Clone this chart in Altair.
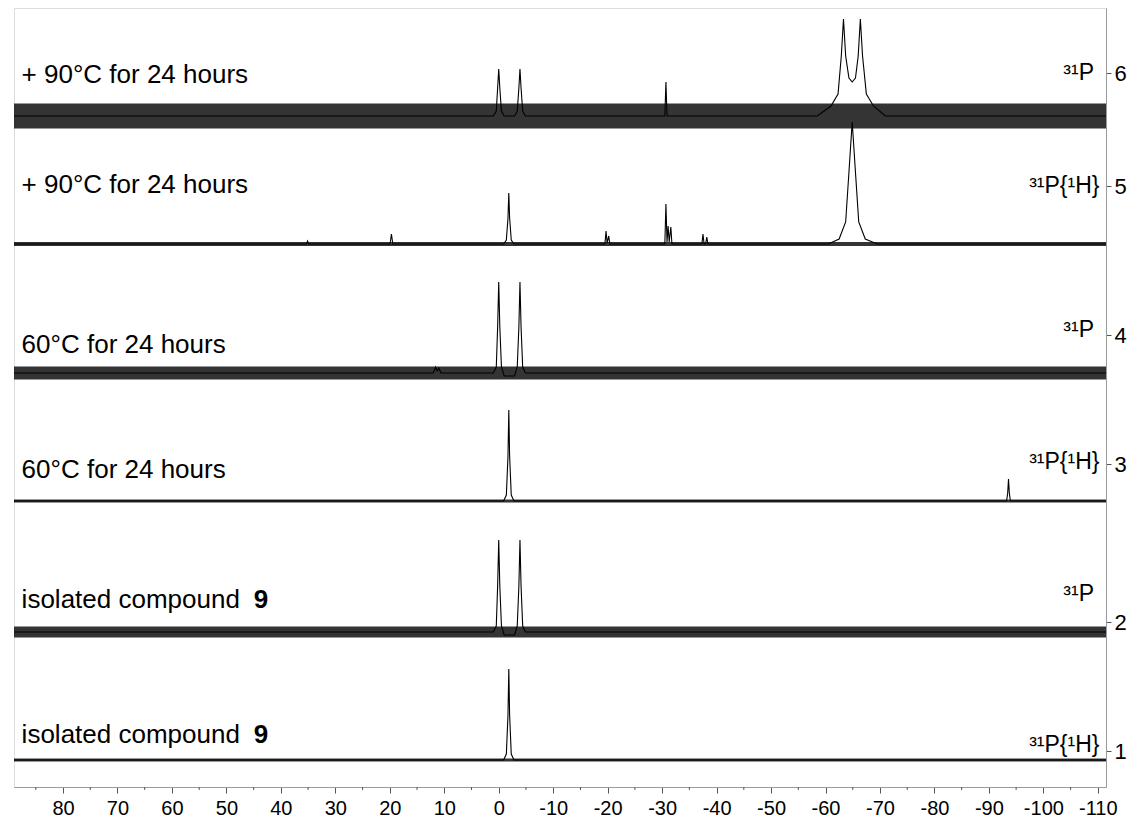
import altair as alt
import pandas as pd

# Chemical-shift window in ppm (high field to the right)
PPM_LEFT, PPM_RIGHT = 89.0, -111.5

# Stack of spectra, numbered from the bottom trace (1) to the top trace (6)
spectrum_ids = [1, 2, 3, 4, 5, 6]
nuclei = ["³¹P{¹H}", "³¹P", "³¹P{¹H}", "³¹P", "³¹P{¹H}", "³¹P"]
conditions = [
    "isolated compound",
    "isolated compound",
    "60°C for 24 hours",
    "60°C for 24 hours",
    "+ 90°C for 24 hours",
    "+ 90°C for 24 hours",
]
bold_suffix = ["9", "9", "", "", "", ""]

# Vertical stacking offsets of each trace and the noise half-width of each trace
baseline_offset = [27, 155, 286, 414, 543, 671]
noise_halfwidth = [1.5, 5.5, 1.5, 6.5, 2.0, 12.5]

# Trace outlines as (ppm, intensity) pairs, intensity in arbitrary units
trace1 = [(89.0, 0), (-0.9, 0), (-1.4, 6), (-1.7, 45), (-1.85, 91), (-2.0, 45), (-2.3, 6),
          (-2.8, 0), (-111.5, 0)]

trace2 = [(89.0, 0), (1.0, 0), (0.45, 6), (0.2, 46), (0.0, 92), (-0.2, 46), (-0.5, 6), (-1.0, -3),
          (-2.9, -3), (-3.4, 6), (-3.7, 46), (-3.9, 92), (-4.1, 46), (-4.4, 6), (-4.9, 0),
          (-111.5, 0)]

trace3 = [(89.0, 0), (-0.9, 0), (-1.4, 6), (-1.7, 45), (-1.85, 91), (-2.0, 45), (-2.3, 6),
          (-2.8, 0), (-93.25, 0), (-93.45, 8), (-93.6, 22), (-93.75, 8), (-93.95, 0),
          (-111.5, 0)]

trace4 = [(89.0, 0), (12.0, 0), (11.6, 6), (11.3, 2), (11.0, 5), (10.6, 0), (1.0, 0), (0.45, 6),
          (0.2, 46), (0.0, 91), (-0.2, 46), (-0.5, 6), (-1.0, -3), (-2.9, -3), (-3.4, 6),
          (-3.7, 46), (-3.9, 91), (-4.1, 46), (-4.4, 6), (-4.9, 0), (-111.5, 0)]

trace5 = [(89.0, 0), (35.3, 0), (35.1, 3), (34.9, 0), (19.95, 0), (19.7, 10), (19.45, 0),
          (-0.9, 0), (-1.4, 4), (-1.7, 26), (-1.85, 51), (-2.0, 26), (-2.3, 4), (-2.8, 0),
          (-19.5, 0), (-19.7, 13), (-19.9, 1), (-20.2, 8), (-20.4, 0),
          (-30.5, 0), (-30.7, 40), (-30.9, 2), (-31.1, 18), (-31.3, 2), (-31.6, 17), (-31.8, 0),
          (-37.3, 0), (-37.5, 10), (-37.7, 0), (-38.0, 0), (-38.2, 7), (-38.4, 0),
          (-60.5, 0), (-62.5, 5), (-63.7, 22), (-64.4, 80), (-64.9, 122), (-65.4, 80),
          (-66.1, 22), (-67.3, 5), (-69.5, 0), (-111.5, 0)]

trace6 = [(89.0, 0), (1.0, 0), (0.45, 5), (0.2, 28), (0.0, 47), (-0.2, 28), (-0.5, 5), (-1.0, 0),
          (-2.9, 0), (-3.4, 5), (-3.7, 28), (-3.9, 47), (-4.1, 28), (-4.4, 5), (-4.9, 0),
          (-30.5, 0), (-30.7, 34), (-30.9, 0),
          (-58.5, 0), (-61.0, 10), (-62.3, 22), (-62.9, 60), (-63.3, 97), (-63.7, 60),
          (-64.3, 38), (-64.9, 34), (-65.5, 38), (-66.0, 60), (-66.4, 97), (-66.8, 60),
          (-67.5, 22), (-68.8, 10), (-71.0, 0), (-111.5, 0)]

traces = [trace1, trace2, trace3, trace4, trace5, trace6]

# Right-hand stacking axis: tick positions on the offset scale and their labels
stack_tick_pos = [36, 165, 323, 452, 601, 714]
stack_tick_lab = ["1", "2", "3", "4", "5", "6"]

# Shift axis: labelled every 10 ppm, minor ticks halfway between
major_ticks = list(range(80, -120, -10))
minor_ticks = list(range(85, -115, -10))

# Label placement relative to each trace
left_label_ppm = 87.6
bold_label_ppm = 45.0
right_label_ppm = [-110.3, -109.3, -110.3, -109.3, -110.3, -109.3]
left_label_lift = [25, 32, 31, 28, 59, 41]
right_label_lift = [15, 38, 39, 43, 58, 43]

FONT = "Liberation Sans"

rows = []
for sid, off, tr in zip(spectrum_ids, baseline_offset, traces):
    for p, v in tr:
        rows.append({"spectrum": sid, "ppm": p, "y": off + v})
trace_df = pd.DataFrame(rows)

band_rows = []
for sid, off, hw in zip(spectrum_ids, baseline_offset, noise_halfwidth):
    for p in (PPM_LEFT, PPM_RIGHT):
        band_rows.append({"spectrum": sid, "ppm": p, "lo": off - hw, "hi": off + hw})
band_df = pd.DataFrame(band_rows)

label_df = pd.DataFrame({
    "spectrum": spectrum_ids,
    "condition": conditions,
    "nucleus": nuclei,
    "suffix": bold_suffix,
    "left_y": [o + d for o, d in zip(baseline_offset, left_label_lift)],
    "right_y": [o + d for o, d in zip(baseline_offset, right_label_lift)],
    "left_x": [left_label_ppm] * 6,
    "bold_x": [bold_label_ppm] * 6,
    "right_x": right_label_ppm,
})

minor_df = pd.DataFrame({"ppm": minor_ticks})

x_scale = alt.Scale(domain=[PPM_LEFT, PPM_RIGHT], nice=False, zero=False)
y_scale = alt.Scale(domain=[0, 779], nice=False, zero=False)

x_axis = alt.Axis(
    values=major_ticks,
    labelExpr="'' + datum.value",
    title=None,
    grid=False,
    domainColor="#9a9a9a",
    tickColor="#555555",
    tickSize=6,
    labelColor="#000000",
    labelFont=FONT,
    labelFontSize=20,
    labelPadding=5,
    labelFlush=False,
)

y_axis = alt.Axis(
    orient="right",
    values=stack_tick_pos,
    labelExpr="[" + ",".join(f"'{t}'" for t in stack_tick_lab) + "][indexof(["
    + ",".join(str(v) for v in stack_tick_pos) + "], datum.value)]",
    title=None,
    grid=False,
    domainColor="#9a9a9a",
    tickColor="#555555",
    tickSize=5,
    labelColor="#000000",
    labelFont=FONT,
    labelFontSize=22,
    labelPadding=3,
    labelFlush=False,
)

bands = alt.Chart(band_df).mark_area(color="#111111", opacity=0.85).encode(
    x=alt.X("ppm:Q", scale=x_scale, axis=x_axis),
    y=alt.Y("lo:Q", scale=y_scale, axis=y_axis),
    y2="hi:Q",
    detail="spectrum:N",
)

lines = alt.Chart(trace_df).mark_line(color="#000000", strokeWidth=1.1).encode(
    x=alt.X("ppm:Q", scale=x_scale),
    y=alt.Y("y:Q", scale=y_scale),
    detail="spectrum:N",
    order=alt.Order("ppm:Q", sort="descending"),
)

# short minor tick marks hanging under the shift axis
minor = alt.Chart(minor_df).mark_rule(color="#555555", strokeWidth=1).encode(
    x=alt.X("ppm:Q", scale=x_scale),
    y=alt.value(779),
    y2=alt.value(782),
)

left_text = alt.Chart(label_df).mark_text(
    align="left", baseline="middle", font=FONT, fontSize=26, color="#000000"
).encode(
    x=alt.X("left_x:Q", scale=x_scale),
    y=alt.Y("left_y:Q", scale=y_scale),
    text="condition:N",
)

bold_text = alt.Chart(label_df).mark_text(
    align="left", baseline="middle", font=FONT, fontSize=26, fontWeight="bold", color="#000000"
).encode(
    x=alt.X("bold_x:Q", scale=x_scale),
    y=alt.Y("left_y:Q", scale=y_scale),
    text="suffix:N",
)

right_text = alt.Chart(label_df).mark_text(
    align="right", baseline="middle", font=FONT, fontSize=23, color="#000000"
).encode(
    x=alt.X("right_x:Q", scale=x_scale),
    y=alt.Y("right_y:Q", scale=y_scale),
    text="nucleus:N",
)

chart = (
    alt.layer(bands, lines, minor, left_text, bold_text, right_text)
    .properties(width=1092, height=779, padding={"left": 11, "top": 8, "right": 0, "bottom": 0})
    .configure_view(strokeWidth=0)
    .configure(background="#ffffff")
)

chart.save("out.html", embed_options={"renderer": "svg", "actions": False})
